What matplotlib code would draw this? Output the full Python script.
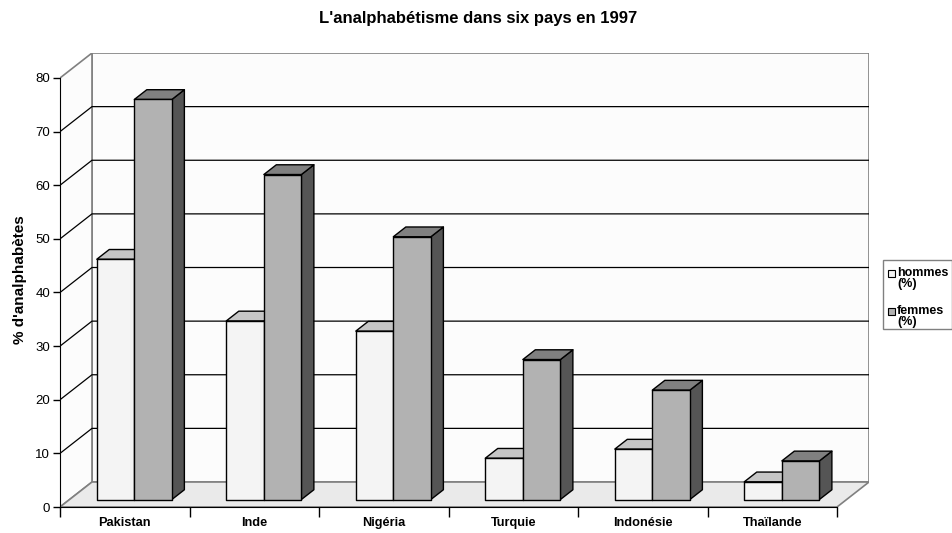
"""Excel-style 3D clustered bars: illiteracy in six countries, 1997."""

import matplotlib
matplotlib.use("Agg")
import matplotlib.pyplot as plt
from matplotlib.patches import Polygon, Rectangle

plt.rcParams["font.family"] = ["Liberation Sans", "DejaVu Sans"]

countries = ["Pakistan", "Inde", "Nigéria", "Turquie", "Indonésie", "Thaïlande"]
hommes = [44.8, 33.3, 31.4, 7.7, 9.4, 3.3]
femmes = [74.6, 60.6, 49.0, 26.1, 20.4, 7.2]
series_names = [("hommes", "(%)"), ("femmes", "(%)")]
y_ticks = [0, 10, 20, 30, 40, 50, 60, 70, 80]

W, H = 953, 533

# projection of the depth axis (category units, value units)
DX = 0.247
DY = 4.66
Z_FRONT = 0.30
Z_BACK = 0.69
BAR_W = 0.29
YMAX = 80

faces = {
    0: ("#f4f4f4", "#c6c6c6", "#8c8c8c"),   # front, top, side
    1: ("#b2b2b2", "#808080", "#555555"),
}


def proj(x, y, z):
    return (x + z * DX, y + z * DY)


def draw_bar(ax, x0, val, s):
    front, top, side = faces[s]
    x1 = x0 + BAR_W
    zf, zb = Z_FRONT, Z_BACK
    f = [proj(x0, 0, zf), proj(x1, 0, zf), proj(x1, val, zf), proj(x0, val, zf)]
    t = [proj(x0, val, zf), proj(x1, val, zf), proj(x1, val, zb), proj(x0, val, zb)]
    sd = [proj(x1, 0, zf), proj(x1, 0, zb), proj(x1, val, zb), proj(x1, val, zf)]
    for pts, c in ((sd, side), (t, top), (f, front)):
        ax.add_patch(Polygon(pts, closed=True, facecolor=c, edgecolor="black",
                             linewidth=1.0, zorder=5, joinstyle="round"))


def fpos(px, py):
    # pixel (from top-left) -> figure fraction
    return px / W, 1 - py / H


fig = plt.figure(figsize=(W / 100, H / 100), dpi=100)
ax = fig.add_axes([60 / W, 26 / H, 809 / W, 454 / H])
n = len(countries)
ax.set_xlim(0, n + DX)
ax.set_ylim(0, YMAX + DY)

# walls and floor
ax.add_patch(Polygon([(DX, DY), (n + DX, DY), (n + DX, YMAX + DY), (DX, YMAX + DY)],
                     facecolor="#fcfcfc", edgecolor="#808080", linewidth=1.2, zorder=1))
ax.add_patch(Polygon([(0, 0), (DX, DY), (DX, YMAX + DY), (0, YMAX)],
                     facecolor="#fcfcfc", edgecolor="#808080", linewidth=1.2, zorder=1))
ax.add_patch(Polygon([(0, 0), (n, 0), (n + DX, DY), (DX, DY)],
                     facecolor="#eaeaea", edgecolor="#808080", linewidth=1.2, zorder=2))

# gridlines on side wall and back wall
for v in y_ticks[1:-1]:
    ax.plot([0, DX, n + DX], [v, v + DY, v + DY], color="black", linewidth=0.9, zorder=3)

for i in range(n):
    x0 = i + 0.5 - BAR_W
    draw_bar(ax, x0, hommes[i], 0)
    draw_bar(ax, x0 + BAR_W, femmes[i], 1)

# axes
for sp in ("top", "right"):
    ax.spines[sp].set_visible(False)
ax.spines["left"].set_bounds(0, YMAX)
ax.spines["bottom"].set_bounds(0, n)
ax.spines["left"].set_zorder(6)
ax.spines["bottom"].set_zorder(6)
ax.set_yticks(y_ticks)
ax.set_yticklabels([str(v) for v in y_ticks], fontsize=9.5)
ax.tick_params(axis="y", length=5, width=1, pad=2)
ax.set_xticks(range(n + 1))
ax.set_xticklabels([""] * (n + 1))
ax.tick_params(axis="x", which="major", length=7, width=1, direction="out")
ax.set_xticks([i + 0.5 for i in range(n)], minor=True)
ax.set_xticklabels(countries, minor=True, fontsize=9.2, fontweight="bold")
ax.tick_params(axis="x", which="minor", length=0, pad=7)

ax.set_ylabel("% d'analphabètes", fontsize=11, fontweight="bold", labelpad=6)
fig.text(*fpos(W / 2 + 2, 19), "L'analphabétisme dans six pays en 1997",
         ha="center", va="center", fontsize=12, fontweight="bold")

# legend box drawn by hand so the swatch sits next to the first line
x0, y0 = fpos(883, 329)
x1, y1 = fpos(952, 260)
fig.add_artist(Rectangle((x0, y0), x1 - x0, y1 - y0, transform=fig.transFigure,
                         facecolor="white", edgecolor="#808080", linewidth=1.0))
for k, ((l1, l2), yc) in enumerate(zip(series_names, (273, 311))):
    sx, sy = fpos(888, yc + 3.5)
    fig.add_artist(Rectangle((sx, sy), 7 / W, 7 / H, transform=fig.transFigure,
                             facecolor=faces[k][0], edgecolor="black", linewidth=0.8))
    fig.text(*fpos(897, yc), l1, ha="left", va="center", fontsize=9, fontweight="bold")
    fig.text(*fpos(897, yc + 11), l2, ha="left", va="center", fontsize=9, fontweight="bold")

fig.savefig("out.png", dpi=100)
